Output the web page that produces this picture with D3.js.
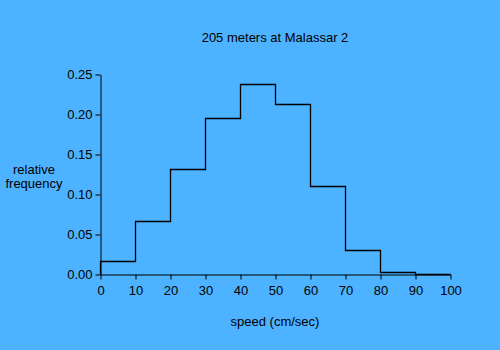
<!DOCTYPE html>
<html><head><meta charset="utf-8">
<script src="https://cdn.jsdelivr.net/npm/d3@7"></script>
<style>body{margin:0;background:#4db2ff;}svg{display:block;}text{font-family:"Liberation Sans",Arial,sans-serif;font-size:13px;fill:#000;}</style>
</head><body><svg id="c" width="500" height="350"></svg>
<script>
const binStarts = [0,10,20,30,40,50,60,70,80,90];
const binWidth = 10;
const freq = [0.016,0.066,0.131,0.195,0.2375,0.2125,0.11,0.03,0.0015,0];
const xTicks = [0,10,20,30,40,50,60,70,80,90,100];
const yTicks = [0,0.05,0.10,0.15,0.20,0.25];
const title = "205 meters at Malassar 2";
const xLabel = "speed (cm/sec)";
const yLabel = ["relative","frequency"];

const svg = d3.select("#c");
svg.append("rect").attr("width",500).attr("height",350).attr("fill","#4db2ff");
const x = d3.scaleLinear().domain([0,100]).range([100.5,450.5]);
const y = d3.scaleLinear().domain([0,0.25]).range([274.5,74.5]);

const xa = svg.append("g").attr("transform",`translate(0,${y(0)})`)
  .call(d3.axisBottom(x).tickValues(xTicks).tickSize(5).tickSizeOuter(0).tickPadding(6).tickFormat(d3.format("d")));
const ya = svg.append("g").attr("transform",`translate(${x(0)},0)`)
  .call(d3.axisLeft(y).tickValues(yTicks).tickSize(5).tickSizeOuter(0).tickPadding(3).tickFormat(d3.format(".2f")));
[xa,ya].forEach(g=>{
  g.select(".domain").attr("stroke","#000");
  g.selectAll(".tick line").attr("stroke","#000");
  g.selectAll("text").attr("font-family",null).attr("font-size",null).style("font-size","13px");
});

const pts = [[binStarts[0], 0]];
binStarts.forEach((s,i)=>{ pts.push([s,freq[i]]); pts.push([s+binWidth,freq[i]]); });
pts.push([binStarts[binStarts.length-1]+binWidth,0]);
svg.append("path")
  .attr("d", d3.line().x(d=>x(d[0])).y(d=>Math.round(y(d[1]))-0.5)(pts))
  .attr("fill","none").attr("stroke","#000").attr("stroke-width",1.3);

svg.append("text").attr("x",275).attr("y",42).attr("text-anchor","middle").text(title);
svg.append("text").attr("x",275).attr("y",326).attr("text-anchor","middle").text(xLabel);
yLabel.forEach((t,i)=>svg.append("text").attr("x",34).attr("y",174+i*14).attr("text-anchor","middle").text(t));
</script></body></html>
